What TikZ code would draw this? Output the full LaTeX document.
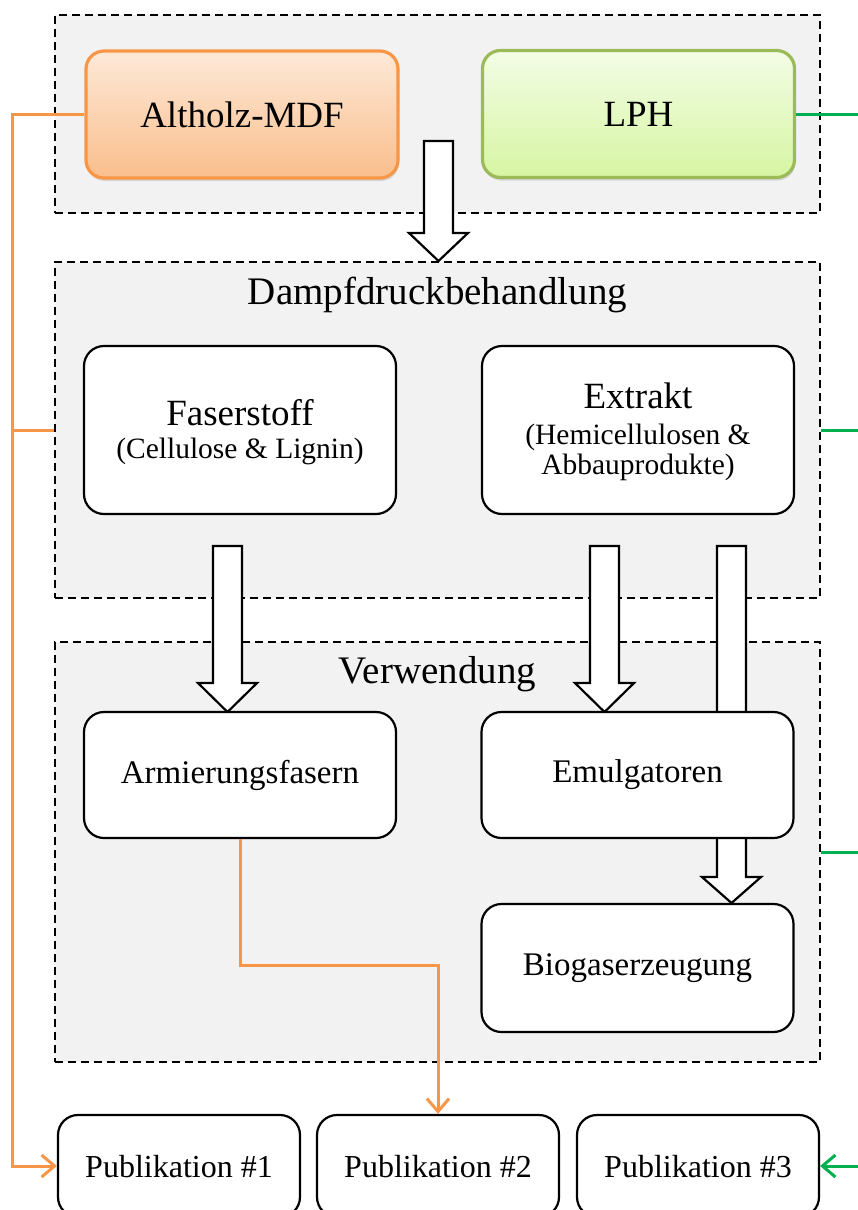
\documentclass[tikz,border=0pt]{standalone}
\usepackage{fontspec}
\setmainfont{Liberation Serif}
\usetikzlibrary{arrows.meta,shadows}
\definecolor{grpfill}{HTML}{F2F2F2}
\definecolor{orline}{HTML}{F79646}
\definecolor{grline}{HTML}{00B050}
\definecolor{lphborder}{HTML}{9BBB59}
\definecolor{alttop}{RGB}{253,233,216}
\definecolor{altbot}{RGB}{250,190,140}
\definecolor{lphtop}{RGB}{243,253,230}
\definecolor{lphbot}{RGB}{214,245,162}
\newcommand\dgbig{\fontsize{37}{42}\selectfont}
\newcommand\dgtitle{\fontsize{39}{44}\selectfont}
\newcommand\dgpar{\fontsize{29.5}{34}\selectfont}
\newcommand\dgmid{\fontsize{33}{38}\selectfont}
\newcommand\dgpub{\fontsize{32}{36}\selectfont}
\begin{document}
\begin{tikzpicture}[x=1pt,y=-1pt,
  grpbox/.style={draw=black, fill=grpfill, line width=2.2pt, dash pattern=on 8pt off 5pt, inner sep=0pt, minimum width=765pt},
  ibox/.style={draw=black, fill=white, line width=2.2pt, rounded corners=20pt, inner sep=0pt, minimum width=312pt},
  pubbox/.style={draw=black, fill=white, line width=2.2pt, rounded corners=20pt, inner sep=0pt, minimum width=242pt, minimum height=102pt},
  srcbox/.style={line width=3.2pt, rounded corners=18pt, inner sep=0pt, minimum width=312pt, minimum height=127pt,
     drop shadow={shadow xshift=1pt, shadow yshift=-3pt, opacity=0.25}},
  blockarrow/.style={draw=black, fill=white, line width=2.2pt, line join=miter},
  oline/.style={draw=orline, line width=3pt},
  gline/.style={draw=grline, line width=3pt},
  barbtip/.style={-{Straight Barb[length=13pt,width=22pt]}}
]
\useasboundingbox (0,0) rectangle (858,1210);
\clip (0,0) rectangle (858,1210);

% groups
\node[grpbox, minimum height=198pt] (g1) at (437.5,114) {};
\node[grpbox, minimum height=336pt] (g2) at (437.5,430) {};
\node[grpbox, minimum height=420pt] (g3) at (437.5,852) {};

% block arrows
\draw[blockarrow] (424,141) -- (453,141) -- (453,233) -- (468,233) -- (438.5,261) -- (409,233) -- (424,233) -- cycle;
\draw[blockarrow] (213,546) -- (242,546) -- (242,683) -- (257,683) -- (227.5,712) -- (198,683) -- (213,683) -- cycle;
\draw[blockarrow] (590,546) -- (619,546) -- (619,683) -- (634,683) -- (604.5,712) -- (575,683) -- (590,683) -- cycle;
\draw[blockarrow] (717,546) -- (746,546) -- (746,877) -- (761,877) -- (731.5,903) -- (702,877) -- (717,877) -- cycle;

% source boxes
\node[srcbox, draw=orline, top color=alttop, bottom color=altbot] (alt) at (242,114.5) {\dgbig Altholz-MDF};
\node[srcbox, draw=lphborder, top color=lphtop, bottom color=lphbot] (lph) at (638.5,114) {\dgbig LPH};

% titles
\node[anchor=base] (t2) at (437.5,304) {\dgtitle Dampfdruckbehandlung};
\node[anchor=base] (t3) at (437.5,683) {\dgtitle Verwendung};

% Dampfdruckbehandlung boxes
\node[ibox, minimum height=168pt] (fas) at (240,430) {};
\node[anchor=base] (fast) at (240,425) {\dgbig Faserstoff};
\node[anchor=base] (fasp) at (240,458) {\dgpar (Cellulose \& Lignin)};
\node[ibox, minimum height=168pt] (ext) at (638,430) {};
\node[anchor=base] (extt) at (638,408) {\dgbig Extrakt};
\node[anchor=base] (extp1) at (638,444) {\dgpar (Hemicellulosen \&};
\node[anchor=base] (extp2) at (638,474) {\dgpar Abbauprodukte)};

% Verwendung boxes
\node[ibox, minimum height=126pt] (arm) at (240,775) {\dgmid Armierungsfasern};
\node[ibox, minimum height=126pt] (emu) at (637.5,775) {\dgmid Emulgatoren};
\node[ibox, minimum height=128pt] (bio) at (637.5,968) {\dgmid Biogaserzeugung};

% publications
\node[pubbox] (p1) at (179,1166) {};
\node[pubbox] (p2) at (438,1166) {};
\node[pubbox] (p3) at (698,1166) {};
\node[anchor=base] (p1t) at (179,1177) {\dgpub Publikation \#1};
\node[anchor=base] (p2t) at (438,1177) {\dgpub Publikation \#2};
\node[anchor=base] (p3t) at (698,1177) {\dgpub Publikation \#3};

% connectors
\coordinate (ol) at (12,115);
\coordinate (gr) at (874,115);
\coordinate (ob) at (438,965);
\draw[oline, barbtip] (alt.west) -- (alt.west -| ol) |- (p1.west);
\draw[oline] (g2.west) -- (g2.west -| ol);
\draw[oline, barbtip] (arm.south) |- (ob) -- (p2.north);
\draw[gline, barbtip] (lph.east) -- (lph.east -| gr) |- (p3.east);
\draw[gline] (g2.east) -- (g2.east -| gr);
\draw[gline] (g3.east) -- (g3.east -| gr);
\end{tikzpicture}
\end{document}
